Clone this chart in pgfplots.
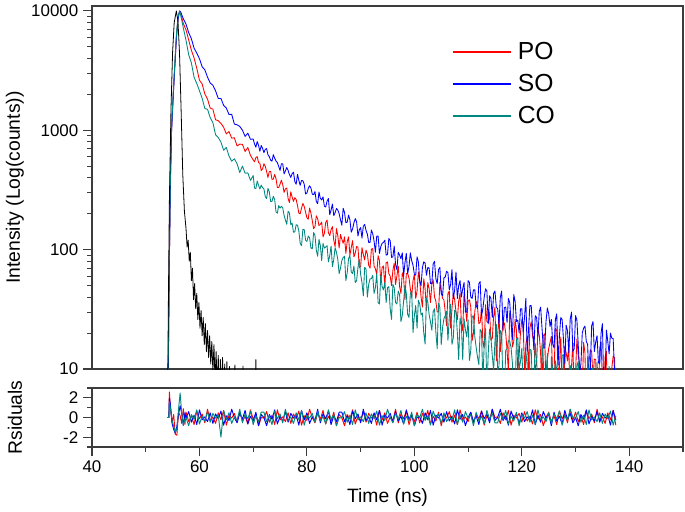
\documentclass[border=0pt]{standalone}
\usepackage{fontspec}
\setmainfont{Liberation Sans}
\usepackage{pgfplots}
\usepackage{pgfplotstable}
\pgfplotsset{compat=1.18}
\definecolor{poRed}{RGB}{255,0,0}
\definecolor{soBlue}{RGB}{0,0,255}
\definecolor{coTeal}{RGB}{0,135,128}
\definecolor{frameGray}{RGB}{60,60,60}

\pgfplotstableread{
t PO SO CO
54.0 1 1 1
54.2 10 10 12
54.4 80 80 90
54.6 400 380 420
54.8 1000 950 1050
55.1 1900 1850 2000
55.4 3400 3300 3600
55.7 6000 5800 6300
56.0 8600 8400 8900
56.3 10000 10000 9950
56.5 9469 9847 9269
57.0 7847 8577 7196
57.5 6942 7748 5669
58.0 5700 6578 4293
58.5 4682 5839 3666
59.0 4037 4872 2782
59.5 3310 4437 2469
60.0 2628 3979 2149
60.5 2446 3408 1853
61.0 2016 3212 1523
61.5 1828 2786 1499
62.0 1533 2491 1276
62.5 1504 2384 1159
63.0 1224 2140 916
63.5 1204 1847 869
64.0 1143 1846 798
64.5 1060 1619 680
65.0 932 1535 718
65.5 978 1356 608
66.0 859 1360 551
66.5 866 1127 577
67.0 739 1113 525
67.5 766 1077 443
68.0 762 1002 502
68.5 665 889 436
69.0 718 946 440
69.5 615 840 380
70.0 565 846 418
70.25 545 768 328
70.5 591 722 325
70.75 602 805 376
71.0 537 748 346
71.25 528 668 322
71.5 460 746 347
71.75 475 706 331
72.0 525 649 323
72.25 499 694 278
72.5 451 702 268
72.75 402 624 326
73.0 451 601 305
73.25 453 562 253
73.5 388 551 254
73.75 390 625 280
74.0 427 584 263
74.25 393 552 207
74.5 332 537 202
74.75 332 498 234
75.0 354 461 223
75.25 382 524 231
75.5 351 525 224
75.75 302 431 194
76.0 323 457 177
76.25 329 488 163
76.5 268 461 210
76.75 248 426 203
77.0 305 403 162
77.25 275 433 167
77.5 254 446 140
77.75 273 372 141
78.0 263 353 162
78.25 234 428 160
78.5 202 380 143
78.75 200 346 113
79.0 223 380 108
79.25 244 378 148
79.5 230 353 147
79.75 206 293 120
80.0 185 298 117
80.25 180 326 130
80.5 223 343 126
80.75 202 328 103
81.0 175 292 102
81.25 150 289 139
81.5 156 307 132
81.75 192 253 99
82.0 182 243 88
82.25 159 304 122
82.5 163 269 108
82.75 170 261 81
83.0 128 277 113
83.25 137 231 103
83.5 169 228 105
83.75 177 255 108
84.0 139 268 79
84.25 131 196 89
84.5 147 215 107
84.75 156 241 72
85.0 120 193 83
85.25 106 204 104
85.5 150 221 95
85.75 131 215 83
86.0 103 200 63
86.25 134 178 70
86.5 122 160 81
86.75 113 222 86
87.0 128 205 88
87.25 93 168 55
87.5 117 170 64
87.75 128 195 84
88.0 90 178 90
88.25 104 140 65
88.5 119 149 63
88.75 87 168 73
89.0 94 182 53
89.25 106 171 55
89.5 105 130 71
89.75 71 147 83
90.0 72 153 62
90.25 104 125 53
90.5 91 157 41
90.75 82 163 71
91.0 99 145 69
91.25 92 135 40
91.5 74 115 51
91.75 70 115 57
92.0 101 146 57
92.25 102 136 61
92.5 73 118 43
92.75 69 95 48
93.0 62 130 63
93.25 89 130 36
93.5 81 93 35
93.75 54 106 61
94.0 71 113 49
94.25 73 115 46
94.5 49 120 53
94.75 78 90 36
95.0 79 91 48
95.25 63 124 49
95.5 60 119 32
95.75 50 86 26
96.0 67 87 51
96.25 77 107 48
96.5 51 75 36
96.75 60 68 35
97.0 73 95 45
97.25 49 90 42
97.5 43 84 25
97.75 64 94 28
98.0 58 60 37
98.25 38 78 50
98.5 63 93 43
98.75 63 63 28.7
99.0 58 72 27
99.25 47 94 42.8
99.5 40 81 45
99.75 55 74 20.2
100.0 62 62 28
100.25 39 61 34.1
100.5 45 87 22
100.75 65 79 37.7
101.0 55 54 35
101.25 40 50 28.4
101.5 33 71 29.5
101.75 57 79 20
102.0 47 77 16.2
102.25 31 61 39.5
102.5 53 71 36.5
102.75 47 70 28.5
103.0 36 52 24.8
103.25 51 52 21.1
103.5 56 76 30.3
103.75 40 80 32
104.0 37 57 20.3
104.25 30 52 14.8
104.5 30 68 35.6
104.75 53 71 32.7
105.0 45 43 16
105.25 39 41 22.2
105.5 38 58 26.4
105.75 30 59 28
106.0 23 66 30.4
106.25 43 64 17.4
106.5 45 46 27.2
106.75 22 51 34.9
107.0 32 68 16.1
107.25 43 39 18.3
107.5 38 46 31.1
107.75 30 65 30
108.0 26 39 20.1
108.25 37 50 12
108.5 43 55 26.7
108.75 24.4 40 23.4
109.0 21 47 11.9
109.25 44 53 26.3
109.5 33 30 21.3
109.75 25 30 18.6
110.0 37 55 25.8
110.25 38 53 11.8
110.5 33 40 14.3
110.75 17.3 39 27.6
111.0 20 46 27.9
111.25 30.2 46 18.7
111.5 37 34 15.2
111.75 33.4 32 12.6
112.0 24 52 10.9
112.25 24.6 54 21.4
112.5 32 28 20.6
112.75 16.7 32 7.6
113.0 15 40 16.4
113.25 34.6 47 21.8
113.5 25 45 6.5
113.75 24.3 24 13.6
114.0 30 41 21.6
114.25 17.5 39 18.3
114.5 18 27 13
114.75 27.6 43 9.8
115.0 33 45 17.1
115.25 11.7 33 23.7
115.5 19 32 9.8
115.75 28.2 24 10.6
116.0 14 40 21
116.25 18.7 45 19.8
116.5 25 21 6.7
116.75 24.1 32.7 5.7
117.0 20 33 14.4
117.25 14.4 24.6 14.7
117.5 9.6 39 17.3
117.75 30.7 36 17.1
118.0 26 25 15.1
118.25 15.3 17.7 11.2
118.5 17 42 7.1
118.75 26.1 36.8 6
119.0 21 25 17.8
119.25 9.4 25.7 18.4
119.5 13 20 10
119.75 20.2 32 11.5
120.0 26 32 14.9
120.25 23.1 20.4 6.9
120.5 9.8 27 4.3
120.75 16.1 39 13.9
121.0 18.6 14 11.2
121.25 9.9 21.4 3.1
121.5 22 34 14.6
121.75 24.9 34 14.4
122.0 19 22 6.5
122.25 16.5 14.5 8
122.5 10.1 28 16.3
122.75 11 27 11.8
123.0 22 19 7.3
123.25 19.2 30.4 5.3
123.5 13.4 33 4.4
123.75 6.2 22.3 16.4
124.0 19 15 11.6
124.25 19.7 15 6.1
124.5 6.8 25 8.7
124.75 12 32.5 13.5
125.0 14.8 29 1.7
125.25 16.6 22.7 2.3
125.5 18.8 26 12.7
125.75 8.6 16.2 9.7
126.0 9.4 15 6.6
126.25 22 26 11.7
126.5 20.9 29 9.8
126.75 9.5 10.8 7.1
127.0 10.3 19 4.6
127.25 18.5 27 3
127.5 6.8 26 13
127.75 5 17.8 13.2
128.0 15.2 11 2.5
128.25 13.7 23.3 7.7
128.5 11.7 21 8.3
128.75 16 13.7 4.1
129.0 3.6 26 10.7
129.25 10.5 30 9.9
129.5 16.5 14 9.0
129.75 5.5 14.8 1.2
130.0 9.3 28 3.2
130.25 17.8 25.7 10.6
130.5 13 16 11.6
130.75 11.1 9.3 5.4
131.0 6.8 11 5.7
131.25 6.7 20 8.7
131.5 16.7 22 9.6
131.75 13.7 22.9 3.3
132.0 4.3 17 1.6
132.25 3.2 16.1 12.7
132.5 11.3 7.5 7.1
132.75 14.5 10 4
133.0 14 23 9.7
133.25 8.2 25 10.3
133.5 12.1 14 3.5
133.75 12 16.8 1
134.0 5.1 19 11.4
134.25 5.5 11.4 7.2
134.5 15 11 4.3
134.75 16.9 20 9
135.0 8.0 24 2.1
135.25 6.4 6.9 5.1
135.5 12.6 8.5 7.9
135.75 14.1 21.2 1.6
136.0 3.1 17 5.6
136.25 2.6 13.4 10.5
136.5 9.6 20 1
136.75 10.2 18.1 5.8
137.0 12.8 18 9
137.25 12.4 9.9 2.7
137.5 5.5 9.3 4.2
}\decay

\pgfplotstableread{
t I
54.0 2
54.2 30
54.4 250
54.7 1500
55.0 4500
55.3 8000
55.7 10000
56.0 8200
56.3 4300
56.6 1400
56.9 420
57.2 210
57.5 150
57.7 105
57.9 120
58.1 80
58.3 95
58.5 55
58.7 70
58.9 38
59.1 52
59.3 32
59.5 43
59.7 26
59.9 36
60.1 22
60.3 31
60.5 19
60.7 27
60.9 16
61.1 24
61.3 14
61.5 21
61.7 12.5
61.9 19
62.1 11
62.3 17
62.5 9.5
62.7 16
62.9 8
63.1 14
63.3 7
63.5 13
63.7 6
63.9 12
64.1 5
64.3 12.5
64.5 4
64.7 11
64.9 3
65.1 11.5
65.3 3
65.6 10.5
65.9 2
66.3 2
66.6 10.8
66.9 2
67.8 2
68.1 10.6
68.4 2
70.3 2
70.5 12
70.7 2
72.0 2
}\irf

\pgfplotstableread{
t rPO rSO rCO
54.0 0 0 0
54.3 0 0 0
54.4 2.6 2.0 1.6
54.6 1.0 1.3 0.9
54.9 -0.5 -0.6 -0.3
55.2 0.3 -1.2 -0.9
55.5 -1.7 -1.6 -1.5
55.8 -1.8 -0.9 -1.2
56.1 0.5 0.3 0.8
56.4 0.2 1.2 2.5
56.7 -0.6 0.4 0.4
57.0 0.9 -0.8 -0.8
57.3 -0.7 0.5 -0.2
57.5 0.54 -0.06 0.0
58.0 -0.42 0.60 -0.84
58.5 0.18 -0.48 0.30
59.0 -0.72 0.24 -0.18
59.5 0.66 -0.72 0.78
60.0 -0.12 0.78 -0.66
60.5 0.36 -0.24 0.12
61.0 -0.54 0.06 -0.36
61.5 0.84 -0.42 0.60
62.0 -0.30 0.48 -0.48
62.5 0.06 -0.60 0.42
63.0 -0.60 0.36 -0.06
63.5 0.48 -0.12 0.24
64.0 -0.24 0.66 -2.0
64.5 0.72 -0.78 0.72
65.0 -0.78 0.18 -0.24
65.5 0.24 -0.30 0.48
66.0 -0.06 0.84 -0.60
66.5 0.42 0.0 0.06
67.0 -0.48 -0.54 -0.30
67.5 0.60 0.42 0.84
68.0 -0.36 -0.18 -0.54
68.5 0.12 0.72 0.36
69.0 -0.66 -0.66 -0.12
69.5 0.78 0.12 0.66
70.0 -0.18 -0.36 -0.72
70.5 0.30 0.54 0.18
71.0 -0.84 -0.84 -0.42
71.5 0.0 0.30 0.54
72.0 -0.06 0.0 0.54
72.5 0.60 -0.84 -0.42
73.0 -0.48 0.30 0.18
73.5 0.24 -0.18 -0.72
74.0 -0.72 0.78 0.66
74.5 0.78 -0.66 -0.12
75.0 -0.24 0.12 0.36
75.5 0.06 -0.36 -0.54
76.0 -0.42 0.60 0.84
76.5 0.48 -0.48 -0.30
77.0 -0.60 0.42 0.06
77.5 0.36 -0.06 -0.60
78.0 -0.12 0.24 0.48
78.5 0.66 -0.78 -0.24
79.0 -0.78 0.72 0.72
79.5 0.18 -0.24 -0.78
80.0 -0.30 0.48 0.24
80.5 0.84 -0.60 -0.06
81.0 0.0 0.06 0.42
81.5 -0.54 -0.30 -0.48
82.0 0.42 0.84 0.60
82.5 -0.18 -0.54 -0.36
83.0 0.72 0.36 0.12
83.5 -0.66 -0.12 -0.66
84.0 0.12 0.66 0.78
84.5 -0.36 -0.72 -0.18
85.0 0.54 0.18 0.30
85.5 -0.84 -0.42 -0.84
86.0 0.30 0.54 0.0
86.5 0.0 0.54 -0.06
87.0 -0.84 -0.42 0.60
87.5 0.30 0.18 -0.48
88.0 -0.18 -0.72 0.24
88.5 0.78 0.66 -0.72
89.0 -0.66 -0.12 0.78
89.5 0.12 0.36 -0.24
90.0 -0.36 -0.54 0.06
90.5 0.60 0.84 -0.42
91.0 -0.48 -0.30 0.48
91.5 0.42 0.06 -0.60
92.0 -0.06 -0.60 0.36
92.5 0.24 0.48 -0.12
93.0 -0.78 -0.24 0.66
93.5 0.72 0.72 -0.78
94.0 -0.24 -0.78 0.18
94.5 0.48 0.24 -0.30
95.0 -0.60 -0.06 0.84
95.5 0.06 0.42 0.0
96.0 -0.30 -0.48 -0.54
96.5 0.84 0.60 0.42
97.0 -0.54 -0.36 -0.18
97.5 0.36 0.12 0.72
98.0 -0.12 -0.66 -0.66
98.5 0.66 0.78 0.12
99.0 -0.72 -0.18 -0.36
99.5 0.18 0.30 0.54
100.0 -0.42 -0.84 -0.84
100.5 0.54 0.0 0.30
101.0 -0.54 0.06 0.0
101.5 0.42 -0.60 0.84
102.0 -0.18 0.48 -0.30
102.5 0.72 -0.24 0.18
103.0 -0.66 0.72 -0.78
103.5 0.12 -0.78 0.66
104.0 -0.36 0.24 -0.12
104.5 0.54 -0.06 0.36
105.0 -0.84 0.42 -0.60
105.5 0.30 -0.48 0.48
106.0 -0.06 0.60 -0.42
106.5 0.60 -0.36 0.06
107.0 -0.48 0.12 -0.24
107.5 0.24 -0.66 0.78
108.0 -0.72 0.78 -0.72
108.5 0.78 -0.18 0.24
109.0 -0.24 0.30 -0.48
109.5 0.06 -0.84 0.60
110.0 -0.42 0.0 -0.06
110.5 0.48 0.54 0.30
111.0 -0.60 -0.42 -0.84
111.5 0.36 0.18 0.54
112.0 -0.12 -0.72 -0.36
112.5 0.66 0.66 0.12
113.0 -0.78 -0.12 -0.66
113.5 0.18 0.36 0.72
114.0 -0.30 -0.54 -0.18
114.5 0.84 0.84 0.42
115.0 0.0 -0.30 -0.54
115.5 0.06 0.0 -0.54
116.0 -0.60 0.84 0.42
116.5 0.48 -0.30 -0.18
117.0 -0.24 0.18 0.72
117.5 0.72 -0.78 -0.66
118.0 -0.78 0.66 0.12
118.5 0.24 -0.12 -0.36
119.0 -0.06 0.36 0.54
119.5 0.42 -0.60 -0.84
120.0 -0.48 0.48 0.30
120.5 0.60 -0.42 -0.06
121.0 -0.36 0.06 0.60
121.5 0.12 -0.24 -0.48
122.0 -0.66 0.78 0.24
122.5 0.78 -0.72 -0.72
123.0 -0.18 0.24 0.78
123.5 0.30 -0.48 -0.24
124.0 -0.84 0.60 0.06
124.5 0.0 -0.06 -0.42
125.0 0.54 0.30 0.48
125.5 -0.42 -0.84 -0.60
126.0 0.18 0.54 0.36
126.5 -0.72 -0.36 -0.12
127.0 0.66 0.12 0.66
127.5 -0.12 -0.66 -0.78
128.0 0.36 0.72 0.18
128.5 -0.54 -0.18 -0.30
129.0 0.84 0.42 0.84
129.5 -0.30 -0.54 0.0
130.0 0.54 0.0 -0.06
130.5 -0.42 -0.84 0.60
131.0 0.18 0.30 -0.48
131.5 -0.72 -0.18 0.24
132.0 0.66 0.78 -0.72
132.5 -0.12 -0.66 0.78
133.0 0.36 0.12 -0.24
133.5 -0.54 -0.36 0.06
134.0 0.84 0.60 -0.42
134.5 -0.30 -0.48 0.48
135.0 0.06 0.42 -0.60
135.5 -0.60 -0.06 0.36
136.0 0.48 0.24 -0.12
136.5 -0.24 -0.78 0.66
137.0 0.72 0.72 -0.78
137.5 -0.78 -0.24 0.18
}\resid

\begin{document}
\begin{tikzpicture}
\useasboundingbox (-69pt,-106.5pt) rectangle (444.75pt,276.75pt);
\pgfplotsset{
  common/.style={
    scale only axis, width=443.25pt, xmin=40, xmax=150,
    axis line style={frameGray, line width=0.9pt},
    tick style={frameGray, line width=0.8pt},
    tick align=outside,
    major tick length=6.75pt, minor tick length=3.75pt,
    ticklabel style={font=\fontsize{12.7}{15}\selectfont},
    /pgf/number format/assume math mode=true,
    /pgf/number format/1000 sep={},
    label style={font=\fontsize{14.5}{17}\selectfont},
  }
}
\begin{axis}[common, name=top, at={(0pt,0pt)}, anchor=south west,
  height=272.25pt, ymode=log, ymin=10, ymax=11000,
  xtick=\empty, ytick={10,100,1000,10000}, ytick pos=left,
  log ticks with fixed point,
  ylabel={Intensity (Log(counts))},
  ylabel style={at={(axis description cs:-0.1303,0.5)}, anchor=center},
  legend cell align=left,
  legend style={at={(axis description cs:0.609,0.934)}, anchor=north west,
    draw=none, fill=none, inner sep=0pt, row sep=5.6pt,
    font=\fontsize{18.5}{22}\selectfont,
    nodes={inner xsep=4.5pt}},
  legend image post style={xscale=2.56, line width=1.05pt},
]
\addlegendimage{empty legend}
\addlegendentry[inner sep=0pt]{}
\addplot[color=poRed, line width=0.65pt, line join=round] table[x=t, y=PO]{\decay};
\addlegendentry{PO}
\addplot[color=soBlue, line width=0.65pt, line join=round] table[x=t, y=SO]{\decay};
\addlegendentry{SO}
\addplot[color=coTeal, line width=0.65pt, line join=round] table[x=t, y=CO]{\decay};
\addlegendentry{CO}
\addplot[color=black, line width=0.6pt, line join=round, forget plot] table[x=t, y=I]{\irf};
\end{axis}
\begin{axis}[common, at={(0pt,-14.25pt)}, anchor=north west,
  height=44.25pt, ymin=-3, ymax=3,
  ytick={-2,0,2}, minor ytick={-3,-1,1,3},
  xtick={40,60,80,100,120,140}, minor xtick={50,70,90,110,130,150},
  xtick pos=bottom, ytick pos=left,
  xlabel={Time (ns)}, ylabel={Rsiduals},
  ylabel style={at={(axis description cs:-0.1303,0.5)}, anchor=center},
  xlabel style={at={(axis description cs:0.5,0)}, anchor=center, yshift=-37.5pt},
]
\addplot[color=poRed, line width=0.7pt, line join=round] table[x=t, y=rPO]{\resid};
\addplot[color=soBlue, line width=0.7pt, line join=round] table[x=t, y=rSO]{\resid};
\addplot[color=coTeal, line width=0.7pt, line join=round] table[x=t, y=rCO]{\resid};
\end{axis}
\end{tikzpicture}
\end{document}
